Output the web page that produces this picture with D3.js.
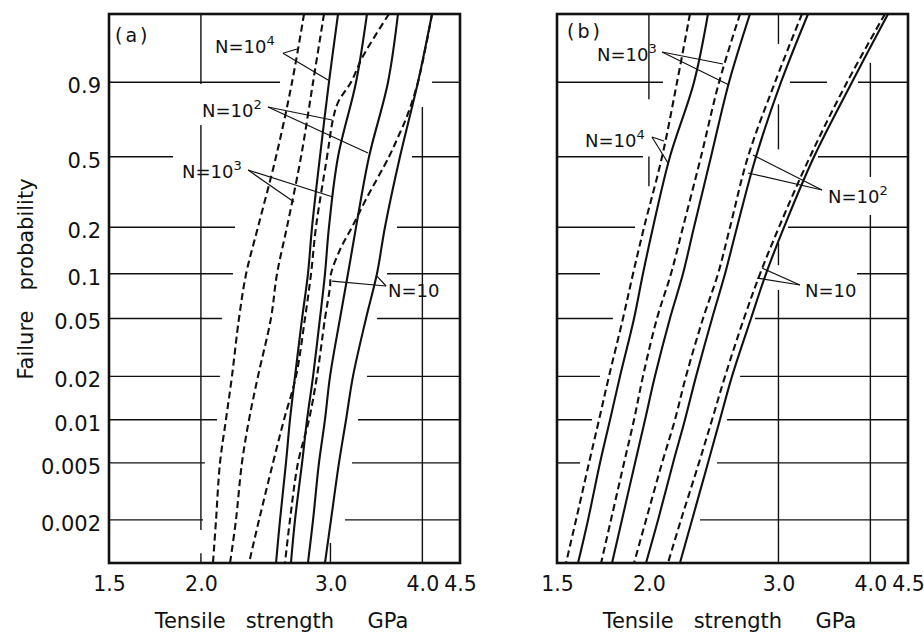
<!DOCTYPE html>
<html>
<head>
<meta charset="utf-8">
<script src="https://cdn.jsdelivr.net/npm/d3@7"></script>
<style>
  body { margin: 0; background: #fff; }
  svg { display: block; }
  text { font-family: "DejaVu Sans", sans-serif; fill: #111; }
</style>
</head>
<body>
<svg id="chart" width="924" height="632"></svg>
<script>
// failure probability levels the curves were read at
var probLevels = [0.999, 0.9, 0.5, 0.2, 0.1, 0.05, 0.02, 0.01, 0.005, 0.002, 0.001];
var probTicks = [0.9, 0.5, 0.2, 0.1, 0.05, 0.02, 0.01, 0.005, 0.002];
var strengthTicks = [1.5, 2.0, 3.0, 4.0, 4.5];

// panel (a), tensile strength in GPa at probLevels
var aSolid1e4 = [3.072, 2.986, 2.903, 2.832, 2.796, 2.745, 2.685, 2.643, 2.610, 2.562, 2.530];
var aSolid1e3 = [3.363, 3.250, 3.072, 2.986, 2.949, 2.903, 2.841, 2.788, 2.745, 2.685, 2.651];
var aSolid1e2 = [3.706, 3.592, 3.385, 3.250, 3.169, 3.091, 2.996, 2.949, 2.894, 2.841, 2.796];
var aSolid10 = [4.123, 3.945, 3.729, 3.558, 3.470, 3.353, 3.219, 3.150, 3.081, 3.005, 2.949];
var aDash1e4 = [2.762, 2.660, 2.530, 2.391, 2.304, 2.253, 2.204, 2.163, 2.123, 2.097, 2.077];
var aDash1e3 = [2.940, 2.841, 2.736, 2.618, 2.538, 2.490, 2.391, 2.325, 2.274, 2.232, 2.191];
// these two bend, so they carry their own probabilities
var aDash1e2Prob = [0.999, 0.970, 0.9, 0.811, 0.719, 0.5, 0.2, 0.1, 0.05, 0.02, 0.01, 0.005, 0.002, 0.001];
var aDash1e2 = [3.603, 3.322, 3.199, 3.072, 3.024, 2.968, 2.867, 2.823, 2.770, 2.693, 2.594, 2.506, 2.399, 2.325];
var aDash10Prob = [0.999, 0.9, 0.736, 0.601, 0.5, 0.295, 0.2, 0.144, 0.1, 0.082, 0.05, 0.02, 0.01, 0.005, 0.002, 0.001];
var aDash10 = [4.123, 3.945, 3.812, 3.695, 3.603, 3.353, 3.209, 3.091, 3.005, 2.996, 2.949, 2.876, 2.805, 2.710, 2.643, 2.602];

// panel (b)
var bDash1e4 = [2.274, 2.184, 2.084, 1.970, 1.903, 1.844, 1.765, 1.711, 1.658, 1.592, 1.543];
var bSolid1e4 = [2.406, 2.303, 2.136, 2.026, 1.963, 1.909, 1.827, 1.771, 1.716, 1.653, 1.602];
var bDash1e3 = [2.660, 2.491, 2.354, 2.225, 2.143, 2.051, 1.963, 1.909, 1.850, 1.776, 1.722];
var bSolid1e3 = [2.744, 2.570, 2.429, 2.303, 2.225, 2.136, 2.038, 1.976, 1.915, 1.838, 1.782];
var bDash1e2 = [3.229, 2.968, 2.727, 2.578, 2.483, 2.369, 2.246, 2.170, 2.084, 1.982, 1.909];
var bSolid1e2 = [3.291, 3.024, 2.796, 2.635, 2.538, 2.437, 2.318, 2.239, 2.157, 2.058, 1.982];
var bDash10 = [4.187, 3.718, 3.311, 3.005, 2.832, 2.693, 2.538, 2.437, 2.339, 2.211, 2.123];
var bSolid10 = [4.227, 3.776, 3.353, 3.053, 2.885, 2.753, 2.594, 2.498, 2.406, 2.289, 2.204];

// broken grid lines: [prob, fromGPa, toGPa] and [GPa, fromProb, toProb]
var aGridH = [[0.9, 1.5, 2.562], [0.9, 4.123, 4.5], [0.5, 1.5, 1.833], [0.5, 3.872, 4.5],
  [0.2, 1.5, 2.225], [0.2, 3.695, 4.5], [0.1, 1.5, 2.211], [0.1, 3.581, 4.5],
  [0.05, 1.5, 2.136], [0.05, 3.470, 4.5], [0.02, 1.5, 2.123], [0.02, 3.363, 4.5],
  [0.01, 1.5, 2.103], [0.01, 3.270, 4.5], [0.005, 1.5, 2.026], [0.005, 3.209, 4.5],
  [0.002, 1.5, 2.013], [0.002, 3.140, 4.5]];
var aGridV = [[2.0, 0.999, 0.893], [2.0, 0.685, 0.0017], [2.0, 0.00117, 0.001],
  [3.0, 0.00138, 0.001], [4.0, 0.787, 0.001]];
var bGridH = [[0.9, 1.5, 2.090], [0.9, 3.110, 3.492], [0.9, 3.848, 4.5], [0.5, 1.5, 1.963], [0.5, 3.395, 4.5],
  [0.2, 1.5, 1.915], [0.2, 3.091, 4.5], [0.1, 1.5, 1.716], [0.1, 3.836, 4.5],
  [0.05, 1.5, 1.787], [0.05, 2.788, 4.5], [0.02, 1.5, 1.716], [0.02, 2.660, 4.5],
  [0.01, 1.5, 1.674], [0.01, 2.554, 4.5], [0.005, 1.5, 1.612], [0.005, 2.475, 4.5],
  [0.002, 2.347, 4.5]];
var bGridV = [[2.0, 0.999, 0.826], [2.0, 0.502, 0.350], [3.0, 0.999, 0.986], [3.0, 0.801, 0.542],
  [3.0, 0.159, 0.114], [3.0, 0.078, 0.001], [4.0, 0.957, 0.394], [4.0, 0.238, 0.001]];

// labels [text, superscript, GPa, prob] and leaders [fromGPa, fromProb, toGPa, toProb]
var aLabels = [["(a)", "", 1.5285, 0.9877], ["N=10", "4", 2.090, 0.9749], ["N=10", "2", 2.007, 0.7316],
  ["N=10", "3", 1.885, 0.3889], ["N=10", "", 3.592, 0.0699]];
var aLeaders = [[2.586, 0.9746, 2.702, 0.9804], [2.586, 0.9746, 2.977, 0.9081],
  [2.467, 0.7867, 3.015, 0.7144], [2.467, 0.7867, 3.374, 0.5213],
  [2.318, 0.4289, 2.677, 0.2843], [2.318, 0.4289, 3.024, 0.3042],
  [3.570, 0.0829, 3.015, 0.0895], [3.570, 0.0829, 3.470, 0.0966]];
var bLabels = [["(b)", "", 1.548, 0.9908], ["N=10", "3", 1.700, 0.9609], ["N=10", "4", 1.637, 0.5557],
  ["N=10", "2", 3.503, 0.2806], ["N=10", "", 3.260, 0.0699]];
var bLeaders = [[2.084, 0.9764, 2.522, 0.9544], [2.084, 0.9764, 2.570, 0.8894],
  [2.019, 0.6144, 2.097, 0.5908], [2.019, 0.6144, 2.123, 0.4658],
  [3.438, 0.3337, 2.770, 0.5100], [3.438, 0.3337, 2.727, 0.4136],
  [3.209, 0.0842, 2.849, 0.1092], [3.209, 0.0842, 2.805, 0.0937]];

function weibull(p) { return Math.log(-Math.log(1 - p)); }

function curve(prob, gpa, dashed) {
    return { dashed: dashed, pts: gpa.map(function (v, i) { return [prob[i], v]; }) };
}

var svg = d3.select('#chart');

function drawPanel(cfg) {
    var x = d3.scaleLog().domain([1.5, 4.5]).range(cfg.xRange);
    var yW = d3.scaleLinear().domain([weibull(0.001), weibull(0.999)]).range([563, 14]);
    var y = function (p) { return yW(weibull(p)); };
    var g = svg.append('g');

    g.append('clipPath').attr('id', cfg.id + '-clip')
        .append('rect')
        .attr('x', x(1.5)).attr('y', y(0.999))
        .attr('width', x(4.5) - x(1.5)).attr('height', y(0.001) - y(0.999));

    g.selectAll('line.gh')
        .data(cfg.gridH)
        .enter()
        .append('line')
        .attr('x1', function (d) { return x(d[1]); })
        .attr('x2', function (d) { return x(d[2]); })
        .attr('y1', function (d) { return y(d[0]); })
        .attr('y2', function (d) { return y(d[0]); })
        .attr('stroke', '#111').attr('stroke-width', 1.4);

    g.selectAll('line.gv')
        .data(cfg.gridV)
        .enter()
        .append('line')
        .attr('x1', function (d) { return x(d[0]); })
        .attr('x2', function (d) { return x(d[0]); })
        .attr('y1', function (d) { return y(d[1]); })
        .attr('y2', function (d) { return y(d[2]); })
        .attr('stroke', '#111').attr('stroke-width', 1.4);

    var line = d3.line()
        .x(function (d) { return x(d[1]); })
        .y(function (d) { return y(d[0]); })
        .curve(d3.curveCatmullRom.alpha(0.5));

    g.append('g').attr('clip-path', 'url(#' + cfg.id + '-clip)')
        .selectAll('path')
        .data(cfg.curves)
        .enter()
        .append('path')
        .attr('d', function (d) { return line(d.pts); })
        .attr('fill', 'none')
        .attr('stroke', '#111')
        .attr('stroke-width', 2.1)
        .attr('stroke-dasharray', function (d) { return d.dashed ? '7,4' : null; });

    g.selectAll('line.leader')
        .data(cfg.leaders)
        .enter()
        .append('line')
        .attr('x1', function (d) { return x(d[0]); })
        .attr('y1', function (d) { return y(d[1]); })
        .attr('x2', function (d) { return x(d[2]); })
        .attr('y2', function (d) { return y(d[3]); })
        .attr('stroke', '#111').attr('stroke-width', 1.2);

    var labels = g.selectAll('text.lab')
        .data(cfg.labels)
        .enter()
        .append('text')
        .attr('x', function (d) { return x(d[2]); })
        .attr('y', function (d) { return y(d[3]); })
        .style('font-size', function (d) { return d[0].charAt(0) == '(' ? '19px' : '18px'; })
        .style('letter-spacing', function (d) { return d[0].charAt(0) == '(' ? '3px' : null; })
        .text(function (d) { return d[0]; });
    labels.append('tspan')
        .attr('dy', -8)
        .style('font-size', '13px')
        .text(function (d) { return d[1]; });

    // frame
    g.append('rect')
        .attr('x', x(1.5)).attr('y', y(0.999))
        .attr('width', x(4.5) - x(1.5)).attr('height', y(0.001) - y(0.999))
        .attr('fill', 'none').attr('stroke', '#111').attr('stroke-width', 2.6);

    var xAxis = d3.axisBottom(x)
        .tickValues(strengthTicks)
        .tickFormat(d3.format('.1f'))
        .tickSize(0).tickPadding(13);
    var ax = g.append('g').attr('transform', 'translate(0,' + y(0.001) + ')').call(xAxis);
    ax.select('.domain').remove();
    ax.selectAll('text').style('font-size', '20.5px').style('font-family', '"DejaVu Sans", sans-serif').attr('fill', '#111');

    if (cfg.yAxis) {
        var yAxis = d3.axisLeft(yW)
            .tickValues(probTicks.map(weibull))
            .tickFormat(function (d, i) { return probTicks[i]; })
            .tickSize(0).tickPadding(8);
        var ay = g.append('g').attr('transform', 'translate(' + x(1.5) + ',0)').call(yAxis);
        ay.select('.domain').remove();
        ay.selectAll('text').style('font-size', '21px').style('font-family', '"DejaVu Sans", sans-serif')
            .attr('fill', '#111').attr('dy', '0.5em');

        g.append('text')
            .attr('transform', 'translate(33,' + 279 + ') rotate(-90)')
            .attr('text-anchor', 'middle')
            .style('font-size', '21px')
            .style('white-space', 'pre')
            .text('Failure   probability');
    }

    g.append('text')
        .attr('x', (x(1.5) + x(4.5)) / 2 - 3)
        .attr('y', 628)
        .attr('text-anchor', 'middle')
        .style('font-size', '21px')
        .style('white-space', 'pre')
        .text('Tensile   strength     GPa');
}

drawPanel({
    id: 'pa', xRange: [109, 460], yAxis: true,
    gridH: aGridH, gridV: aGridV, labels: aLabels, leaders: aLeaders,
    curves: [
        curve(probLevels, aSolid1e4, false), curve(probLevels, aSolid1e3, false),
        curve(probLevels, aSolid1e2, false), curve(probLevels, aSolid10, false),
        curve(probLevels, aDash1e4, true), curve(probLevels, aDash1e3, true),
        curve(aDash1e2Prob, aDash1e2, true), curve(aDash10Prob, aDash10, true)
    ]
});

drawPanel({
    id: 'pb', xRange: [557, 908], yAxis: false,
    gridH: bGridH, gridV: bGridV, labels: bLabels, leaders: bLeaders,
    curves: [
        curve(probLevels, bDash1e4, true), curve(probLevels, bSolid1e4, false),
        curve(probLevels, bDash1e3, true), curve(probLevels, bSolid1e3, false),
        curve(probLevels, bDash1e2, true), curve(probLevels, bSolid1e2, false),
        curve(probLevels, bDash10, true), curve(probLevels, bSolid10, false)
    ]
});
</script>
</body>
</html>
